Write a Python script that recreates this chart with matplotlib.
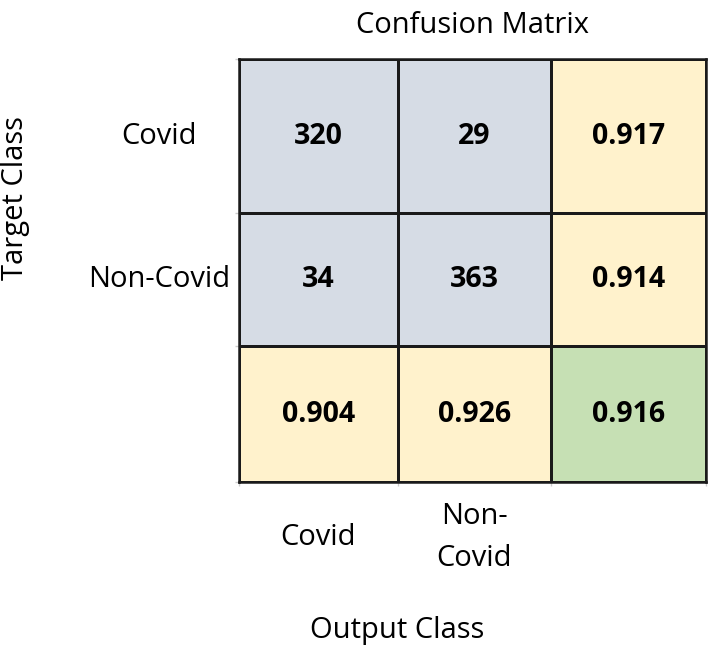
import numpy as np
import matplotlib
matplotlib.use('Agg')
import matplotlib.pyplot as plt
from matplotlib.colors import ListedColormap

plt.rcParams['font.family'] = ['Open Sans', 'DejaVu Sans']

classes = ['Covid', 'Non-Covid']
col_labels = ['Covid', 'Non-\nCovid', '']
counts = [[320, 29], [34, 363]]
row_rates = [0.917, 0.914]
col_rates = [0.904, 0.926]
overall = 0.916

# cell kinds: 0 = count, 1 = rate, 2 = overall
kinds = np.array([[0, 0, 1], [0, 0, 1], [1, 1, 2]])
cmap = ListedColormap(['#D6DCE5', '#FFF2CC', '#C6E0B4'])

texts = [[str(counts[0][0]), str(counts[0][1]), f'{row_rates[0]:.3f}'],
         [str(counts[1][0]), str(counts[1][1]), f'{row_rates[1]:.3f}'],
         [f'{col_rates[0]:.3f}', f'{col_rates[1]:.3f}', f'{overall:.3f}']]

# cell sizes are not quite equal in the original
xe = np.cumsum([0, 159, 153, 155])
ye = np.cumsum([0, 154, 133, 136])
xc = (xe[:-1] + xe[1:]) / 2
yc = (ye[:-1] + ye[1:]) / 2

fig = plt.figure(figsize=(7.11, 6.49), dpi=100)
ax = fig.add_axes([0.336, 0.257, 0.657, 0.652])
ax.pcolormesh(xe, ye, kinds, cmap=cmap, vmin=-0.5, vmax=2.5,
              edgecolor='#1a1a1a', linewidth=1.8)
ax.set_xlim(xe[0], xe[-1])
ax.set_ylim(ye[-1], ye[0])
for i in range(3):
    for j in range(3):
        ax.text(xc[j], yc[i], texts[i][j], ha='center', va='center',
                fontsize=20.5, fontweight='bold', color='black')

ax.set_xticks(xe)
ax.set_yticks(ye)
ax.set_xticklabels([])
ax.set_yticklabels([])
ax.tick_params(length=3, color='#cccccc', width=1)
for s in ax.spines.values():
    s.set_linewidth(1.8)
    s.set_color('#1a1a1a')

for i, c in enumerate(classes):
    ax.text(-80, yc[i], c, ha='center', va='center', fontsize=21)
for j, c in enumerate(col_labels):
    ax.text(xc[j], ye[-1] + 55, c, ha='center', va='center', fontsize=21,
            linespacing=1.6)

fig.text(0.664, 0.961, 'Confusion Matrix', ha='center', va='center', fontsize=21)
fig.text(0.022, 0.695, 'Target Class', ha='center', va='center', fontsize=21,
         rotation=90)
fig.text(0.558, 0.028, 'Output Class', ha='center', va='center', fontsize=21)

fig.savefig('out.png', dpi=100)
